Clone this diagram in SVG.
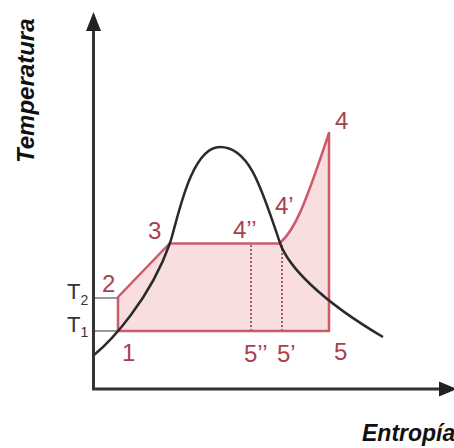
<svg xmlns="http://www.w3.org/2000/svg" width="454" height="448" viewBox="0 0 454 448">
  <style>
    .axis { stroke: #333; stroke-width: 3; fill: none; }
    .cyc { stroke: #cc5a6a; stroke-width: 2.5; fill: none; stroke-linejoin: round; }
    .dot { stroke: #8a3040; stroke-width: 1.5; stroke-dasharray: 2 2; fill: none; }
    .tick { stroke: #777; stroke-width: 1.5; fill: none; }
    .dome { stroke: #2a2a2a; stroke-width: 2.5; fill: none; }
    .lbl { font-family: "Liberation Sans", Arial, sans-serif; font-size: 24px; fill: #a8404e; }
    .tl { font-family: "Liberation Sans", Arial, sans-serif; font-size: 22px; fill: #333; }
    .ax { font-family: "Liberation Sans", Arial, sans-serif; font-weight: bold; font-style: italic; fill: #111; }
  </style>
  <rect width="454" height="448" fill="#ffffff"/>

  <g id="cycle-fill">
    <path d="M118,331 L118,297 L170,243 L280,243 C295,230 305,205 329,133 L329,331 Z" fill="#f8dede" stroke="none"/>
  </g>

  <g id="connectors">
    <line class="tick" x1="94" y1="298" x2="118" y2="298"/>
    <line class="tick" x1="94" y1="331" x2="118" y2="331"/>
    <line class="dot" x1="251" y1="245" x2="251" y2="330"/>
    <line class="dot" x1="282" y1="245" x2="282" y2="330"/>
    <path class="cyc" d="M118,331 L118,297 L170,243"/>
    <line class="cyc" x1="170" y1="243.5" x2="280" y2="243.5" stroke-width="3.5"/>
    <path class="cyc" d="M280,243 C295,230 305,205 329,133 L329,331 L118,331"/>
    <path class="dome" d="M94,355 C110,342 150,300 170,243 C177,223 190,147 220,147 C250,147 262,190 280,243 C288,266 320,300 383,337"/>
  </g>

  <g id="axes">
    <line class="axis" x1="93.5" y1="26" x2="93.5" y2="390"/>
    <polygon points="93.5,12 86,31 101,31" fill="#222"/>
    <line class="axis" x1="92" y1="389" x2="442" y2="389"/>
    <polygon points="457,389 439,381.5 439,396.5" fill="#222"/>
  </g>

  <g id="axis-labels">
    <text class="ax" font-size="24" transform="translate(34,163) rotate(-90)">Temperatura</text>
    <text class="ax" font-size="23" x="362" y="441">Entropía</text>
  </g>

  <g id="point-1"><text class="lbl" x="122" y="361">1</text></g>
  <g id="point-2"><text class="lbl" x="102" y="292">2</text></g>
  <g id="point-3"><text class="lbl" x="148" y="239">3</text></g>
  <g id="point-4pp"><text class="lbl" x="233" y="238">4’’</text></g>
  <g id="point-4p"><text class="lbl" x="275" y="214">4’</text></g>
  <g id="point-4"><text class="lbl" x="335" y="129">4</text></g>
  <g id="point-5pp"><text class="lbl" x="244" y="362">5’’</text></g>
  <g id="point-5p"><text class="lbl" x="277" y="362">5’</text></g>
  <g id="point-5"><text class="lbl" x="334" y="360">5</text></g>

  <g id="T2"><text class="tl" x="67" y="299">T<tspan font-size="14" dy="6">2</tspan></text></g>
  <g id="T1"><text class="tl" x="67" y="332">T<tspan font-size="14" dy="5">1</tspan></text></g>
</svg>
